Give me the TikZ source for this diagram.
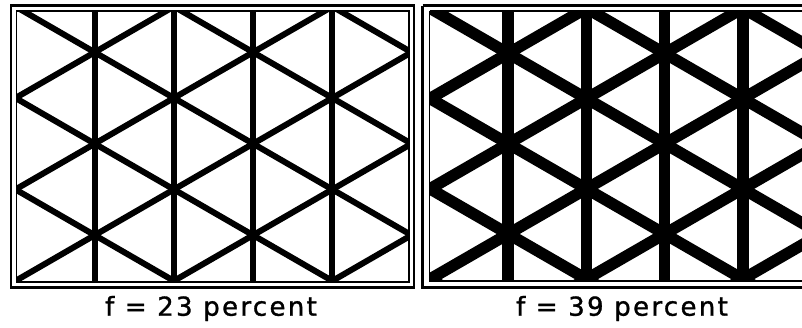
\documentclass[tikz,border=0pt]{standalone}
\usepackage{fontspec}
\newfontfamily\labelfont[LetterSpace=9,FakeBold=1.2]{DejaVu Sans}
\begin{document}
\begin{tikzpicture}[x=1pt,y=-1pt,
  outerframe/.style={line width=2.6pt},
  innerframe/.style={line width=1.8pt},
  thinlat/.style={line width=6pt},
  thicklat/.style={line width=11.5pt},
  caption/.style={font=\labelfont\fontsize{26}{30}\selectfont, inner sep=0pt, anchor=center}]
\useasboundingbox (0,0) rectangle (802,327);
\fill[white] (0,0) rectangle (802,327);
% ---------- left panel ----------
\begin{scope}
  \clip (16.5,11) rectangle (409,282);
  \foreach \k in {1,...,4} {
    \draw[thinlat] ({15.5+\k*79.2},0) -- ({15.5+\k*79.2},300);
  }
  \foreach \m in {-5,...,5} {
    \draw[thinlat] (-5,{98+\m*91.45-20.5*0.57735}) -- (440,{98+\m*91.45+424.5*0.57735});
    \draw[thinlat] (-5,{98+\m*91.45+20.5*0.57735}) -- (440,{98+\m*91.45-424.5*0.57735});
  }
\end{scope}
\draw[innerframe] (16.5,11) rectangle (409,282);
\draw[outerframe] (11,5.5) rectangle (414,287.5);
% ---------- right panel ----------
\begin{scope}
  \clip (429.5,11) rectangle (816,281);
  \foreach \k in {1,...,4} {
    \draw[thicklat] ({430+\k*78.2},0) -- ({430+\k*78.2},300);
  }
  \foreach \m in {-5,...,5} {
    \draw[thicklat] (410,{98.5+\m*90.3-20*0.57735}) -- (830,{98.5+\m*90.3+400*0.57735});
    \draw[thicklat] (410,{98.5+\m*90.3+20*0.57735}) -- (830,{98.5+\m*90.3-400*0.57735});
  }
\end{scope}
\draw[innerframe] (429.5,11) -- (816,11) (429.5,11) -- (429.5,281) -- (816,281);
\draw[outerframe] (422.5,5.5) -- (822,5.5) (422.5,5.5) -- (422.5,287.5) -- (822,287.5);
% ---------- captions ----------
\node[caption] (capA) at (211,308.5) {f = 23 percent};
\node[caption] (capB) at (622,308.5) {f = 39 percent};
\end{tikzpicture}
\end{document}
